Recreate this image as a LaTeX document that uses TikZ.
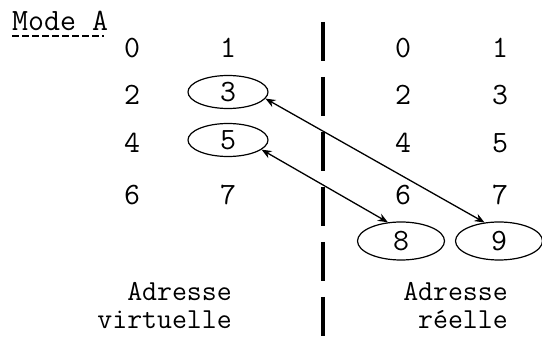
\documentclass[tikz,border=0pt]{standalone}
\usetikzlibrary{shapes.geometric,arrows.meta}

\begin{document}
\begin{tikzpicture} [
        x = 1pt, y = 1pt,
        every node/.style = {font = \ttfamily\fontsize{31}{26}\selectfont, inner sep = 0},
        caption/.style = {font = \ttfamily\fontsize{29}{28}\selectfont, align = right, anchor = east},
        page/.style = {draw, ellipse, line width = 1.2pt, minimum width = 80pt, minimum height = 33pt},
        frame/.style = {page, minimum width = 87pt, minimum height = 38pt},
        link/.style = {{Stealth[length = 10pt, width = 8pt]}-{Stealth[length = 10pt, width = 8pt]}, line width = 1.3pt}
        ]
        \useasboundingbox (0,0) rectangle (542,338);

        \node [anchor = west] (mode) at (12,317) {Mode A};
        \draw [line width = 1.5pt, dash pattern = on 7pt off 3pt]
        ([yshift = -5pt]mode.south west) -- ([yshift = -5pt, xshift = -4pt]mode.south east);

        \foreach \d/\x/\y in {0/132/290, 1/228/290, 2/132/243, 4/132/195, 6/132/143, 7/228/143}
        \node (v\d) at (\x,\y) {\d};
        \node [page] (v3) at (228,246) {3};
        \node [page] (v5) at (228,198) {5};

        \foreach \d/\x/\y in {0/403/290, 1/500/290, 2/403/243, 3/500/243, 4/403/195, 5/500/195, 6/403/143, 7/500/143}
        \node (r\d) at (\x,\y) {\d};
        \node [frame] (r8) at (401,97) {8};
        \node [frame] (r9) at (499,97) {9};

        \coordinate (top) at (323,316);
        \coordinate (bottom) at (323,0);
        \draw [line width = 4.5pt, dash pattern = on 39pt off 16pt] (top) -- (bottom);

        \draw [link] (v3.-10) -- (r9.128);
        \draw [link] (v5.-16) -- (r8.125);

        \node [caption] (virt) at (232,32) {Adresse\\virtuelle};
        \node [caption] (reel) at (508,32) {Adresse\\réelle};
    \end{tikzpicture}
\end{document}
